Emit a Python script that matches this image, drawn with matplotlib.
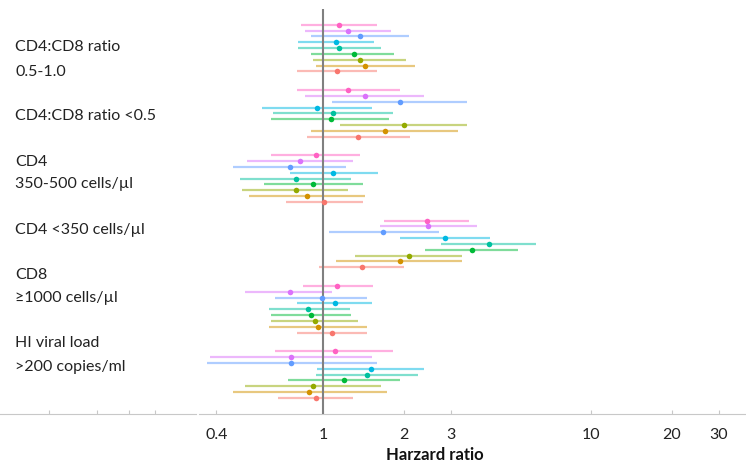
import numpy as np
import matplotlib.pyplot as plt

# groups, top to bottom
groups = ['CD4:CD8 ratio\n0.5-1.0', 'CD4:CD8 ratio <0.5', 'CD4\n350-500 cells/µl',
          'CD4 <350 cells/µl', 'CD8\n≥1000 cells/µl', 'HI viral load\n>200 copies/ml']

# series within each group, top to bottom
colors = ['#FF61C3', '#DB72FB', '#619CFF', '#00B9E3', '#00C19F',
          '#00BA38', '#93AA00', '#D39200', '#F8766D']

# hazard ratios (rows = groups, cols = series)
hr = [
    [1.15, 1.24, 1.38, 1.12, 1.15, 1.30, 1.37, 1.43, 1.13],
    [1.24, 1.43, 1.93, 0.95, 1.09, 1.07, 2.01, 1.70, 1.35],
    [0.94, 0.82, 0.75, 1.09, 0.79, 0.92, 0.79, 0.87, 1.01],
    [2.44, 2.47, 1.68, 2.85, 4.15, 3.60, 2.10, 1.93, 1.40],
    [1.13, 0.75, 0.99, 1.11, 0.88, 0.90, 0.93, 0.96, 1.08],
    [1.11, 0.76, 0.76, 1.51, 1.46, 1.20, 0.92, 0.89, 0.94],
]
lo = [
    [0.83, 0.86, 0.90, 0.81, 0.81, 0.90, 0.92, 0.94, 0.80],
    [0.80, 0.86, 1.08, 0.59, 0.65, 0.64, 1.16, 0.90, 0.87],
    [0.64, 0.52, 0.46, 0.75, 0.49, 0.60, 0.50, 0.53, 0.73],
    [1.69, 1.63, 1.05, 1.93, 2.76, 2.41, 1.32, 1.12, 0.97],
    [0.84, 0.51, 0.66, 0.80, 0.63, 0.64, 0.64, 0.63, 0.80],
    [0.66, 0.38, 0.37, 0.95, 0.94, 0.74, 0.51, 0.46, 0.68],
]
hi = [
    [1.59, 1.79, 2.10, 1.55, 1.65, 1.84, 2.04, 2.20, 1.59],
    [1.93, 2.39, 3.44, 1.53, 1.83, 1.76, 3.46, 3.19, 2.12],
    [1.38, 1.29, 1.22, 1.60, 1.27, 1.41, 1.24, 1.44, 1.41],
    [3.52, 3.77, 2.72, 4.21, 6.23, 5.33, 3.30, 3.31, 2.00],
    [1.54, 1.08, 1.46, 1.52, 1.26, 1.27, 1.35, 1.46, 1.46],
    [1.83, 1.52, 1.59, 2.38, 2.27, 1.93, 1.64, 1.74, 1.29],
]

xticks = [0.4, 1, 2, 3, 10, 20, 30]

plt.rcParams['font.family'] = ['Lato', 'DejaVu Sans']

fig = plt.figure(figsize=(7.46, 4.65), dpi=100)
W, H = 746, 465

# left label panel and right forest panel
axl = fig.add_axes([0 / W, 1 - 413.7 / H, 196 / W, (413.7 - 9) / H])
ax = fig.add_axes([199 / W, 1 - 413.7 / H, (746 - 199) / W, (413.7 - 9) / H])

gap = 11.2
for g in range(len(groups)):
    for i, c in enumerate(colors):
        y = g * gap + i
        ax.plot([lo[g][i], hi[g][i]], [y, y], color=c, lw=1.6, alpha=0.5,
                solid_capstyle='butt', zorder=2)
        ax.plot(hr[g][i], y, 'o', color=c, ms=4, mec='none', zorder=4)

ax.axvline(1, color='#808080', lw=1.5, zorder=3)

ax.set_xscale('log')
ax.set_xlim(0.3446, 37.9)
ax.set_ylim(66.7, -2.69)
ax.set_xticks(xticks)
ax.set_xticklabels([str(t) for t in xticks])
ax.minorticks_off()
ax.set_yticks([])
for s in ['top', 'right', 'left']:
    ax.spines[s].set_visible(False)
ax.spines['bottom'].set_color('#c8c8c8')
ax.tick_params(axis='x', length=3, direction='in', color='#c8c8c8',
               labelsize=11.5, labelcolor='#222222', pad=10)

# left panel
axl.set_xlim(0, 196)
axl.set_ylim(0, 1)
axl.set_xticks([49, 97, 129, 155])
axl.set_xticklabels([])
axl.set_yticks([])
for s in ['top', 'right', 'left']:
    axl.spines[s].set_visible(False)
axl.spines['bottom'].set_color('#c8c8c8')
axl.tick_params(axis='x', length=3, direction='in', color='#c8c8c8')

label_y = [(47, 72), (116,), (162, 184), (230,), (275, 298), (343, 367)]
for lab, ys in zip(groups, label_y):
    for line, py in zip(lab.split('\n'), ys):
        fig.text(15 / W, 1 - py / H, line, fontsize=11.5, color='#222222',
                 ha='left', va='center')

fig.text(435 / W, 1 - 455 / H, 'Harzard ratio', fontsize=12, fontweight='bold',
         color='#111111', ha='center', va='center')

fig.savefig('out.png', dpi=100)
